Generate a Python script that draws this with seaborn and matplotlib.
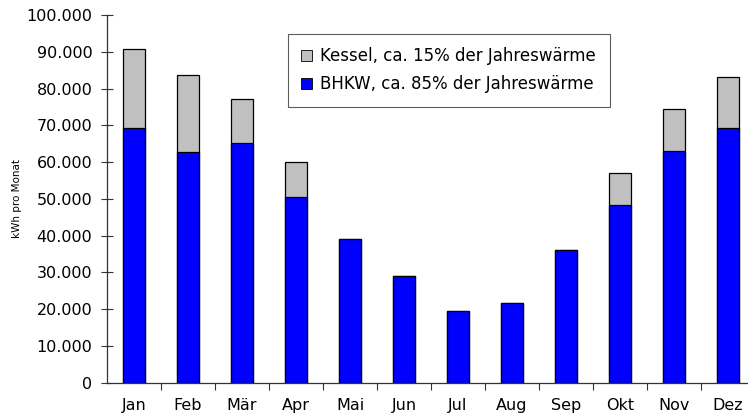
import pandas as pd
import matplotlib
matplotlib.use("Agg")
import matplotlib.pyplot as plt
import seaborn as sns
from matplotlib.ticker import FuncFormatter, FixedLocator
from matplotlib.patches import Patch

# monthly heat demand in kWh
months = ["Jan", "Feb", "Mär", "Apr", "Mai", "Jun", "Jul", "Aug", "Sep", "Okt", "Nov", "Dez"]
bhkw = [69300, 62700, 65200, 50500, 39000, 29000, 19500, 21700, 36200, 48200, 62900, 69300]
kessel = [21500, 21100, 12000, 9500, 0, 0, 0, 0, 0, 8800, 11500, 13900]

label_kessel = "Kessel, ca. 15% der Jahreswärme"
label_bhkw = "BHKW, ca. 85% der Jahreswärme"

df = pd.DataFrame({"Monat": months, "BHKW": bhkw, "Kessel": kessel})
df["Gesamt"] = df["BHKW"] + df["Kessel"]

sns.set_style("white", {"xtick.bottom": True, "ytick.left": True,
                        "text.color": "black", "axes.labelcolor": "black",
                        "xtick.color": "black", "ytick.color": "black"})
plt.rcParams["font.family"] = ["DejaVu Sans"]

fig = plt.figure(figsize=(7.48, 4.17), dpi=100)
ax = fig.add_axes([107 / 748, 1 - 382.7 / 417, 648 / 748, 367.7 / 417])

sns.barplot(data=df, x="Monat", y="Gesamt", color="#c0c0c0", width=0.4,
            edgecolor="black", linewidth=0.9, saturation=1, ax=ax)
sns.barplot(data=df, x="Monat", y="BHKW", color="#0000ff", width=0.4,
            edgecolor="black", linewidth=0.9, saturation=1, ax=ax)

ax.set_xlim(-0.5, 11.5)
ax.set_ylim(0, 100000)
ax.set_yticks(range(0, 100001, 10000))
ax.yaxis.set_major_formatter(FuncFormatter(lambda v, p: f"{int(v):,}".replace(",", ".")))

# x ticks sit between the categories, labels at the centres
ax.xaxis.set_major_locator(FixedLocator([i + 0.5 for i in range(11)]))
ax.xaxis.set_major_formatter(FuncFormatter(lambda v, p: ""))
ax.xaxis.set_minor_locator(FixedLocator(range(12)))
ax.set_xticklabels(months, minor=True)
ax.tick_params(axis="x", which="major", direction="out", length=5, width=0.8, color="#333333")
ax.tick_params(axis="x", which="minor", length=0, pad=11, labelsize=11.5)
ax.tick_params(axis="y", direction="inout", length=9, width=0.8, color="#333333", labelsize=11.5, pad=6)

ax.set_xlabel("")
ax.set_ylabel("kWh pro Monat", fontsize=7.5, labelpad=3)

for side in ["top", "right"]:
    ax.spines[side].set_visible(False)
for side in ["left", "bottom"]:
    ax.spines[side].set_color("#333333")
    ax.spines[side].set_linewidth(0.9)

handles = [Patch(facecolor="#c0c0c0", edgecolor="black", linewidth=0.6, label=label_kessel),
           Patch(facecolor="#0000ff", edgecolor="black", linewidth=0.6, label=label_bhkw)]
leg = ax.legend(handles=handles, loc="upper left", bbox_to_anchor=((288 - 107) / 648, 1 - (34 - 15) / 367.7),
                fontsize=12, frameon=True, fancybox=False, handlelength=0.65, handleheight=0.65,
                handletextpad=0.5, labelspacing=0.6, borderpad=0.8, borderaxespad=0)
leg.get_frame().set_edgecolor("#333333")
leg.get_frame().set_linewidth(0.8)

fig.savefig("out.png", dpi=100)
